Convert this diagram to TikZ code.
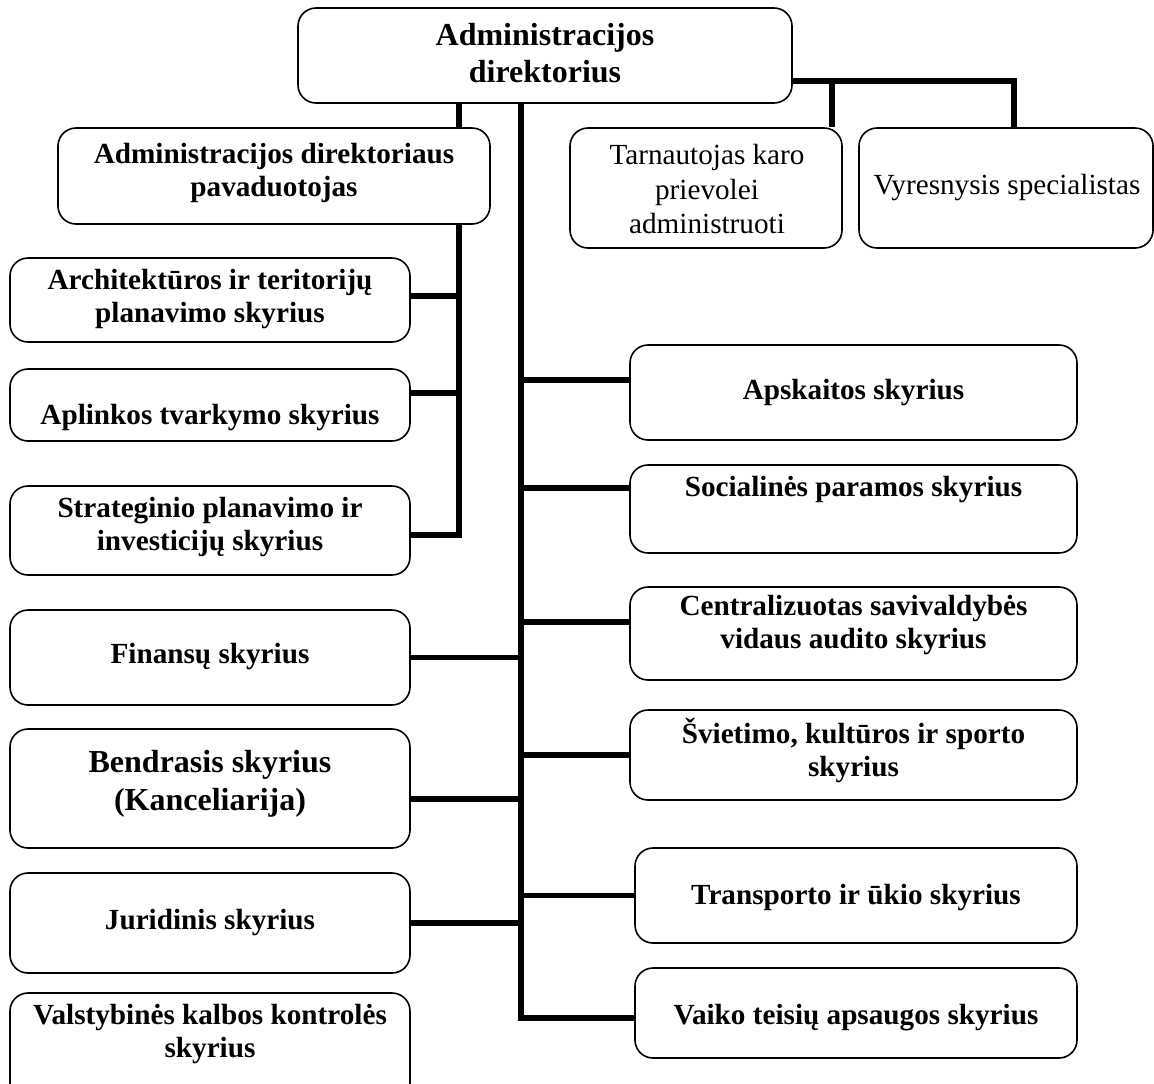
\documentclass[tikz,border=0pt]{standalone}
\usepackage{fontspec}
\setmainfont{Liberation Serif}
\begin{document}
\begin{tikzpicture}[x=0.5pt,y=-0.5pt,
  box/.style={draw, line width=0.8pt, rounded corners=9pt, fill=white, inner sep=0pt},
  conn/.style={line width=2.6pt},
  txt/.style={align=center, inner sep=0pt, font=\bfseries\fontsize{14.6}{16.5}\selectfont},
  txtreg/.style={align=center, inner sep=0pt, font=\fontsize{14.6}{17.25}\selectfont},
  txtbig/.style={align=center, inner sep=0pt, font=\bfseries\fontsize{16}{18.5}\selectfont}]
\useasboundingbox (0,0) rectangle (1154,1083);

% x positions of the vertical lines
\coordinate (xL) at (459,0);
\coordinate (xT) at (521,0);
\coordinate (x1) at (832,0);
\coordinate (x2) at (1014,0);

% boxes
\node[box, minimum width=247pt, minimum height=47.5pt] (title) at (545,55.5) {};
\node[box, minimum width=216pt, minimum height=48pt] (pav) at (274,176) {};
\node[box, minimum width=136pt, minimum height=60pt] (tarn) at (706,188) {};
\node[box, minimum width=147pt, minimum height=60pt] (vyr) at (1006,188) {};
\node[box, minimum width=200pt, minimum height=42pt] (arch) at (210,300) {};
\node[box, minimum width=200pt, minimum height=36pt] (apl) at (210,405) {};
\node[box, minimum width=200pt, minimum height=44.5pt] (str) at (210,530.5) {};
\node[box, minimum width=200pt, minimum height=47.5pt] (fin) at (210,657.5) {};
\node[box, minimum width=200pt, minimum height=59.5pt] (ben) at (210,788.5) {};
\node[box, minimum width=200pt, minimum height=50pt] (jur) at (210,923) {};
\node[box, minimum width=200pt, minimum height=54pt] (val) at (210,1047) {};
\node[box, minimum width=223.5pt, minimum height=47.5pt] (aps) at (853.5,392.5) {};
\node[box, minimum width=223.5pt, minimum height=44pt] (soc) at (853.5,509) {};
\node[box, minimum width=223.5pt, minimum height=46.5pt] (cen) at (853.5,633.5) {};
\node[box, minimum width=223.5pt, minimum height=45pt] (svi) at (853.5,755) {};
\node[box, minimum width=221pt, minimum height=47.5pt] (tra) at (856,895.5) {};
\node[box, minimum width=221pt, minimum height=45pt] (vai) at (856,1013) {};

% connectors
\draw[conn] (title.south -| xL) -- (pav.north -| xL);
\draw[conn] (pav.south -| xL) |- ([yshift=-2.25pt]str.east);
\draw[conn] ([yshift=2pt]arch.east) -- ([yshift=2pt]arch.east -| xL);
\draw[conn] ([yshift=6pt]apl.east) -- ([yshift=6pt]apl.east -| xL);
\draw[conn] (title.south -| xT) |- ([yshift=-2.5pt]vai.west);
\draw[conn] ([yshift=6.25pt]aps.west -| xT) -- ([yshift=6.25pt]aps.west);
\draw[conn] ([yshift=10.5pt]soc.west -| xT) -- ([yshift=10.5pt]soc.west);
\draw[conn] ([yshift=5.75pt]cen.west -| xT) -- ([yshift=5.75pt]cen.west);
\draw[conn] (svi.west -| xT) -- (svi.west);
\draw[conn] (tra.west -| xT) -- (tra.west);
\draw[conn] (fin.east) -- (fin.east -| xT);
\draw[conn] ([yshift=-5.25pt]ben.east) -- ([yshift=-5.25pt]ben.east -| xT);
\draw[conn] (jur.east) -- (jur.east -| xT);
\draw[conn] ([yshift=-12.75pt]title.east) -| (vyr.north -| x2);
\draw[conn] ([yshift=-12.75pt]title.east -| x1) -- (tarn.north -| x1);

% labels
\node[txtbig] (ttitle) at (545,53.5) {Administracijos\\direktorius};
\node[txt] (tpav) at (274,173) {Administracijos direktoriaus\\pavaduotojas};
\node[txtreg] (ttarn) at (707,189.5) {Tarnautojas karo\\prievolei\\administruoti};
\node[txtreg] (tvyr) at (1007,188) {Vyresnysis specialistas};
\node[txt] (tarch) at (210,299.5) {Architektūros ir teritorijų\\planavimo skyrius};
\node[txt] (tapl) at (210,418) {Aplinkos tvarkymo skyrius};
\node[txt] (tstr) at (210,527) {Strateginio planavimo ir\\investicijų skyrius};
\node[txt] (tfin) at (210,657) {Finansų skyrius};
\node[txtbig, font=\bfseries\fontsize{16}{19}\selectfont] (tben) at (210,784) {Bendrasis skyrius\\(Kanceliarija)};
\node[txt] (tjur) at (210,922) {Juridinis skyrius};
\node[txt] (tval) at (210,1034) {Valstybinės kalbos kontrolės\\skyrius};
\node[txt] (taps) at (853.5,393) {Apskaitos skyrius};
\node[txt] (tsoc) at (853.5,490) {Socialinės paramos skyrius};
\node[txt] (tcen) at (853.5,625.5) {Centralizuotas savivaldybės\\vidaus audito skyrius};
\node[txt] (tsvi) at (853.5,750) {Švietimo, kultūros ir sporto\\skyrius};
\node[txt] (ttra) at (856,897) {Transporto ir ūkio skyrius};
\node[txt] (tvai) at (856,1018) {Vaiko teisių apsaugos skyrius};
\end{tikzpicture}
\end{document}
